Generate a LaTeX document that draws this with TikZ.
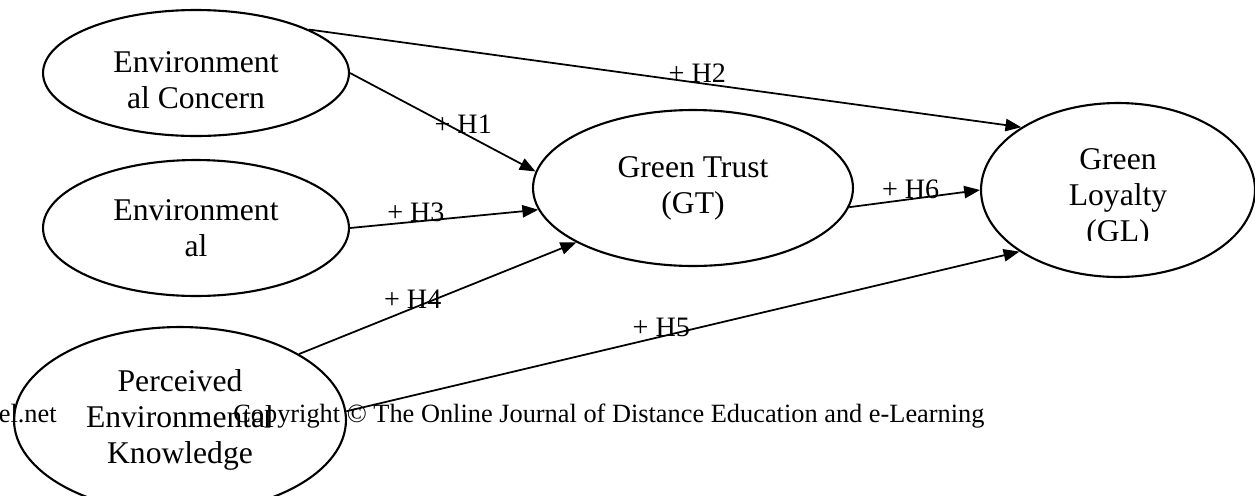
\documentclass[tikz,border=0pt]{standalone}
\usepackage{fontspec}
\setmainfont{Liberation Serif}
\usetikzlibrary{shapes.geometric,arrows.meta}

\begin{document}
\begin{tikzpicture}[x=0.02cm, y=-0.02cm,
    construct/.style={draw, ellipse, line width=1.2pt, inner sep=0pt, align=center,
        font=\fontsize{18}{20.5}\selectfont},
    constext/.style={align=center, inner sep=0pt, font=\fontsize{18}{20.5}\selectfont},
    hyp/.style={-{Triangle[length=9pt,width=7pt]}, line width=1pt},
    hlabel/.style={anchor=south, inner sep=0pt, yshift=-0.5pt, font=\fontsize{16}{18}\selectfont}]

    \useasboundingbox (0,0) rectangle (1255,495);

    % Draw the constructs
    \node[construct, minimum width=6.12cm, minimum height=2.52cm] (ec) at (196,73) {};
    \node[constext] (ectext) at (196,80) {Environment\\al Concern};
    \node[construct, minimum width=6.12cm, minimum height=2.72cm] (ea) at (196,228) {Environment\\al};
    \node[construct, minimum width=6.64cm, minimum height=3.72cm] (pek) at (180,420) {};
    \node[construct, minimum width=6.4cm, minimum height=3.12cm] (gt) at (693,188) {Green Trust\\(GT)};
    \node[construct, minimum width=5.48cm, minimum height=3.48cm] (gl) at (1118,190) {};

    % Texts cut off at the bottom
    \begin{scope}
        \clip (1040,140) rectangle (1200,240);
        \node[constext] (gltext) at (1118,198) {Green\\Loyalty\\(GL)};
    \end{scope}
    \begin{scope}
        \clip (60,360) rectangle (300,470);
        \node[constext] (pektext) at (180,420) {Perceived\\Environmental\\Knowledge};
    \end{scope}

    % Draw the hypotheses
    \draw[hyp] (ec.east) -- node[hlabel, pos=0.61] {+ H1} (gt.174);
    \draw[hyp] (ec.21.5) -- node[hlabel, pos=0.545] {+ H2} (gl.147.7);
    \draw[hyp] (ea.east) -- node[hlabel, pos=0.35] {+ H3} (gt.188);
    \draw[hyp] (pek.29.8) -- node[hlabel, pos=0.41] {+ H4} (gt.205.6);
    \draw[hyp] (pek.3) -- node[hlabel, pos=0.468] {+ H5} (gl.212.3);
    \draw[hyp] (gt.-7) -- node[hlabel, pos=0.47] {+ H6} (gl.west);

    % Footer
    \node[anchor=base east, inner sep=0pt, font=\fontsize{15}{17}\selectfont] (site) at (57,422) {el.net};
    \node[anchor=base west, inner sep=0pt, font=\fontsize{15}{17}\selectfont] (copy) at (233,422)
        {Copyright © The Online Journal of Distance Education and e-Learning};
\end{tikzpicture}
\end{document}
